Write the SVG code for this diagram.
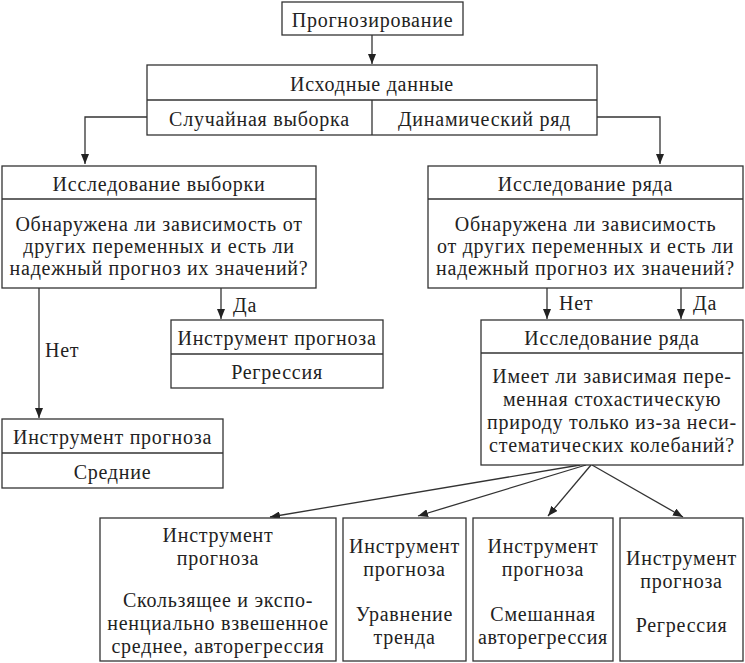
<svg xmlns="http://www.w3.org/2000/svg" width="745" height="663" viewBox="0 0 745 663">
<style>
.b{fill:#fff;stroke:#333;stroke-width:1.3}
.l{fill:none;stroke:#333;stroke-width:1.3}
text{font-family:"Liberation Serif","Times New Roman",serif;font-size:20px;letter-spacing:0.75px;fill:#222;text-anchor:middle}
.s{text-anchor:start}
</style>
<defs>
<marker id="a" viewBox="0 0 10 8" refX="10" refY="4" markerWidth="10" markerHeight="8" markerUnits="userSpaceOnUse" orient="auto">
<path d="M0,0 L10,4 L0,8 Z" fill="#222"/>
</marker>
</defs>
<rect width="745" height="663" fill="#fff"/>
<g id="connectors">
<line class="l" x1="372" y1="35" x2="372" y2="64" marker-end="url(#a)"/>
<polyline class="l" points="147,117 85,117 85,164" marker-end="url(#a)"/>
<polyline class="l" points="597,117 660,117 660,164" marker-end="url(#a)"/>
<line class="l" x1="39" y1="288" x2="39" y2="418" marker-end="url(#a)"/>
<line class="l" x1="221" y1="288" x2="221" y2="319" marker-end="url(#a)"/>
<line class="l" x1="547" y1="288" x2="547" y2="319" marker-end="url(#a)"/>
<line class="l" x1="681" y1="288" x2="681" y2="319" marker-end="url(#a)"/>
<line class="l" x1="580" y1="465" x2="270" y2="517" marker-end="url(#a)"/>
<line class="l" x1="586" y1="465" x2="418" y2="516" marker-end="url(#a)"/>
<line class="l" x1="591" y1="465" x2="548" y2="516" marker-end="url(#a)"/>
<line class="l" x1="592" y1="465" x2="683" y2="517" marker-end="url(#a)"/>
<text class="s" x="45" y="357">Нет</text>
<text class="s" x="233" y="312">Да</text>
<text class="s" x="559" y="310">Нет</text>
<text class="s" x="693" y="310">Да</text>
</g>
<g id="n-prognoz">
<rect class="b" x="282" y="2" width="181" height="33"/>
<text x="372.5" y="27">Прогнозирование</text>
</g>
<g id="n-ishod">
<rect class="b" x="147" y="65" width="450" height="70"/>
<line class="l" x1="147" y1="100" x2="597" y2="100"/>
<line class="l" x1="372" y1="100" x2="372" y2="135"/>
<text x="372" y="91">Исходные данные</text>
<text x="259.5" y="126">Случайная выборка</text>
<text x="484.5" y="126">Динамический ряд</text>
</g>
<g id="n-vyborka">
<rect class="b" x="2" y="166" width="314" height="122"/>
<line class="l" x1="2" y1="199" x2="316" y2="199"/>
<text x="159" y="191">Исследование выборки</text>
<text x="159" y="231">Обнаружена ли зависимость от</text>
<text x="159" y="253">других переменных и есть ли</text>
<text x="159" y="275">надежный прогноз их значений?</text>
</g>
<g id="n-ryad">
<rect class="b" x="428" y="166" width="315" height="122"/>
<line class="l" x1="428" y1="199" x2="743" y2="199"/>
<text x="585.5" y="191">Исследование ряда</text>
<text x="585.5" y="231">Обнаружена ли зависимость</text>
<text x="585.5" y="253">от других переменных и есть ли</text>
<text x="585.5" y="275">надежный прогноз их значений?</text>
</g>
<g id="n-regr1">
<rect class="b" x="171" y="320" width="212" height="68"/>
<line class="l" x1="171" y1="354" x2="383" y2="354"/>
<text x="277" y="345">Инструмент прогноза</text>
<text x="277" y="379">Регрессия</text>
</g>
<g id="n-srednie">
<rect class="b" x="2" y="419" width="221" height="69"/>
<line class="l" x1="2" y1="453" x2="223" y2="453"/>
<text x="112.5" y="444">Инструмент прогноза</text>
<text x="112.5" y="479">Средние</text>
</g>
<g id="n-ryad2">
<rect class="b" x="481" y="320" width="262" height="145"/>
<line class="l" x1="481" y1="353" x2="743" y2="353"/>
<text x="612" y="345">Исследование ряда</text>
<text x="612" y="383">Имеет ли зависимая пере-</text>
<text x="612" y="406">менная стохастическую</text>
<text x="612" y="429">природу только из-за неси-</text>
<text x="612" y="452">стематических колебаний?</text>
</g>
<g id="n-b1">
<rect class="b" x="100" y="518" width="236" height="143"/>
<text x="218" y="542">Инструмент</text>
<text x="218" y="565">прогноза</text>
<text x="218" y="607">Скользящее и экспо-</text>
<text x="218" y="630">ненциально взвешенное</text>
<text x="218" y="653">среднее, авторегрессия</text>
</g>
<g id="n-b2">
<rect class="b" x="343" y="518" width="123" height="143"/>
<text x="404.5" y="553">Инструмент</text>
<text x="404.5" y="576">прогноза</text>
<text x="404.5" y="621">Уравнение</text>
<text x="404.5" y="644">тренда</text>
</g>
<g id="n-b3">
<rect class="b" x="473" y="518" width="140" height="143"/>
<text x="543" y="553">Инструмент</text>
<text x="543" y="576">прогноза</text>
<text x="543" y="621">Смешанная</text>
<text x="543" y="644">авторегрессия</text>
</g>
<g id="n-b4">
<rect class="b" x="620" y="518" width="123" height="143"/>
<text x="681.5" y="565">Инструмент</text>
<text x="681.5" y="588">прогноза</text>
<text x="681.5" y="632">Регрессия</text>
</g>
</svg>
